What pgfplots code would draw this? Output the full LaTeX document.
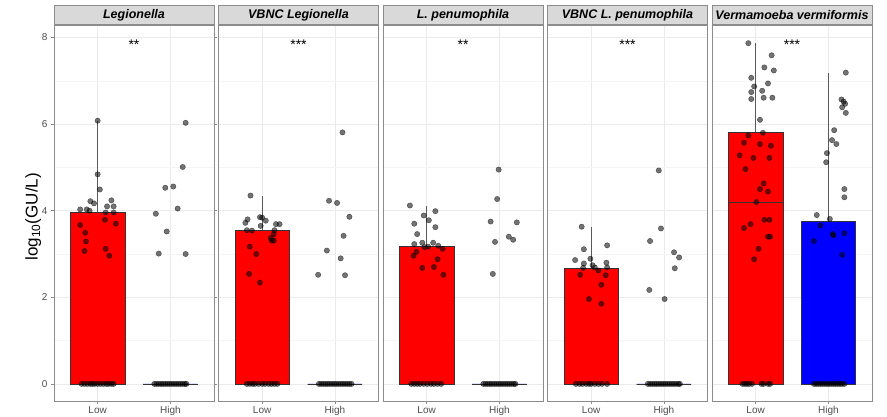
\documentclass[border=0pt]{standalone}
\usepackage{fontspec}
\setmainfont{Liberation Sans}
\usepackage{pgfplots}
\pgfplotsset{compat=1.18}
\usepgfplotslibrary{statistics}
\definecolor{gridc}{HTML}{EBEBEB}
\definecolor{gridm}{HTML}{F5F5F5}
\definecolor{bordc}{HTML}{8C8C8C}
\definecolor{stripc}{HTML}{D9D9D9}
\definecolor{tickc}{HTML}{4D4D4D}
\definecolor{boxc}{HTML}{333333}
\definecolor{whc}{HTML}{5A5A5A}
\tikzset{star/.style={font=\fontsize{14}{14}\selectfont, yshift=-3.5pt}}
\pgfplotsset{
  facet/.style={
    scale only axis, width=160pt, height=376pt,
    anchor=south west,
    xmin=0.4, xmax=2.6, ymin=-0.395, ymax=8.29,
    xtick={1,2}, xticklabels={Low,High},
    ytick={0,2,4,6,8}, minor ytick={1,3,5,7},
    /pgf/number format/assume math mode=true,
    grid=both,
    major grid style={gridc, line width=0.6pt},
    minor grid style={gridm, line width=0.4pt},
    axis line style={bordc, line width=0.6pt},
    tick align=outside, major tick length=3pt, minor tick length=0pt,
    tick style={bordc, line width=0.5pt},
    tick label style={font=\fontsize{10}{10}\selectfont, text=tickc},
    xticklabel style={yshift=1pt},
    clip=false,
    boxplot/draw direction=y,
    title style={at={(0.5,1)}, anchor=south, yshift=-6pt, fill=stripc, draw=bordc, line width=0.6pt,
      minimum width=160pt, minimum height=19pt, inner sep=0pt,
      font=\fontsize{12.5}{12.5}\selectfont\bfseries\itshape},
  },
  noy/.style={yticklabels={}, ytick style={draw=none}},
  bx/.style={fill=#1, draw=boxc, line width=0.6pt,
    boxplot/draw direction=y,
    boxplot/every whisker/.style={draw=whc},
    boxplot/whisker extend=0, boxplot/box extend=0.75},
  pts/.style={only marks, mark=*, mark size=2.7pt, mark options={fill=black, draw=none, opacity=0.55}},
}
\begin{document}
\begin{tikzpicture}
\useasboundingbox (0,0) rectangle (887pt,416pt);
% ---------------- Panel 1
\begin{axis}[facet, at={(54pt,15pt)}, title={Legionella},
  ylabel={log\textsubscript{10}(GU/L)},
  ylabel style={at={(axis description cs:-0.13,0.49)}, anchor=center, font=\fontsize{17}{17}\selectfont, text=black}]
\addplot[bx=red, boxplot prepared={lower whisker=0, lower quartile=0, median=0, upper quartile=3.97, upper whisker=6.08, draw position=1}] coordinates {};
\addplot[bx=blue, boxplot prepared={lower whisker=0, lower quartile=0, median=0, upper quartile=0, upper whisker=0, draw position=2}] coordinates {};
\addplot[pts] coordinates {
(1.00,6.08)(1.00,4.84)(1.03,4.49)(0.90,4.22)(0.95,4.17)(1.19,4.24)(1.13,4.10)(1.22,4.10)
(0.76,4.03)(0.85,4.03)(0.89,4.00)(1.11,3.96)(1.22,3.96)(0.76,3.67)(0.83,3.49)(0.84,3.29)
(1.10,3.79)(1.25,3.70)(0.82,3.07)(1.11,3.12)(1.16,2.96)
(0.78,0)(0.82,0)(0.86,0)(0.90,0)(0.93,0)(0.96,0)(1.00,0)(1.04,0)(1.08,0)(1.12,0)(1.15,0)(1.19,0)(1.22,0)
(2.21,6.03)(2.17,5.01)(1.93,4.53)(2.04,4.56)(2.10,4.05)(1.80,3.93)(1.95,3.52)(1.84,3.01)(2.21,3.00)
(1.78,0)(1.81,0)(1.84,0)(1.87,0)(1.90,0)(1.93,0)(1.96,0)(1.99,0)(2.02,0)(2.05,0)(2.08,0)(2.11,0)(2.14,0)(2.17,0)(2.20,0)(2.22,0)
};
\node[star] at (axis cs:1.5,7.92) {**};
\end{axis}
% ---------------- Panel 2
\begin{axis}[facet, noy, at={(218.5pt,15pt)}, title={VBNC Legionella}]
\addplot[bx=red, boxplot prepared={lower whisker=0, lower quartile=0, median=0, upper quartile=3.54, upper whisker=4.34, draw position=1}] coordinates {};
\addplot[bx=blue, boxplot prepared={lower whisker=0, lower quartile=0, median=0, upper quartile=0, upper whisker=0, draw position=2}] coordinates {};
\addplot[pts] coordinates {
(0.84,4.35)(0.80,3.80)(0.77,3.72)(0.97,3.85)(1.00,3.84)(1.05,3.77)(0.98,3.65)(1.19,3.69)(1.24,3.69)
(0.79,3.55)(0.86,3.54)(1.17,3.55)(1.16,3.46)(1.12,3.37)(1.13,3.31)(1.16,3.31)(0.83,3.17)(0.92,3.00)(0.82,2.54)(0.97,2.34)
(0.79,0)(0.83,0)(0.87,0)(0.90,0)(0.95,0)(1.00,0)(1.04,0)(1.09,0)(1.13,0)(1.17,0)(1.21,0)
(2.105,5.81)(1.92,4.23)(2.03,4.18)(2.20,3.86)(2.12,3.42)(1.89,3.08)(2.08,2.90)(1.77,2.52)(2.14,2.51)
(1.78,0)(1.81,0)(1.84,0)(1.87,0)(1.90,0)(1.93,0)(1.96,0)(1.99,0)(2.02,0)(2.05,0)(2.08,0)(2.11,0)(2.14,0)(2.17,0)(2.20,0)(2.23,0)
};
\node[star] at (axis cs:1.5,7.92) {***};
\end{axis}
% ---------------- Panel 3
\begin{axis}[facet, noy, at={(383pt,15pt)}, title={L. penumophila}]
\addplot[bx=red, boxplot prepared={lower whisker=0, lower quartile=0, median=0, upper quartile=3.17, upper whisker=4.12, draw position=1}] coordinates {};
\addplot[bx=blue, boxplot prepared={lower whisker=0, lower quartile=0, median=0, upper quartile=0, upper whisker=0, draw position=2}] coordinates {};
\addplot[pts] coordinates {
(0.77,4.12)(1.12,3.99)(0.96,3.89)(1.03,3.78)(0.83,3.70)(1.12,3.62)(0.87,3.46)(0.83,3.23)(0.94,3.26)(1.09,3.26)
(1.16,3.19)(0.86,3.05)(0.97,3.16)(1.02,3.17)(1.22,3.12)(0.82,2.96)(1.15,2.88)(0.94,2.68)(1.10,2.70)(1.23,2.52)
(0.79,0)(0.83,0)(0.87,0)(0.91,0)(0.96,0)(1.01,0)(1.06,0)(1.10,0)(1.15,0)(1.20,0)
(1.99,4.95)(1.97,4.27)(1.88,3.75)(2.24,3.73)(2.13,3.40)(2.19,3.33)(1.94,3.28)(1.91,2.54)
(1.78,0)(1.81,0)(1.84,0)(1.87,0)(1.90,0)(1.93,0)(1.96,0)(1.99,0)(2.02,0)(2.05,0)(2.08,0)(2.11,0)(2.14,0)(2.17,0)(2.20,0)(2.22,0)
};
\node[star] at (axis cs:1.5,7.92) {**};
\end{axis}
% ---------------- Panel 4
\begin{axis}[facet, noy, at={(547.5pt,15pt)}, title={VBNC L. penumophila}]
\addplot[bx=red, boxplot prepared={lower whisker=0, lower quartile=0, median=0, upper quartile=2.68, upper whisker=3.63, draw position=1}] coordinates {};
\addplot[bx=blue, boxplot prepared={lower whisker=0, lower quartile=0, median=0, upper quartile=0, upper whisker=0, draw position=2}] coordinates {};
\addplot[pts] coordinates {
(0.87,3.63)(0.90,3.11)(1.22,3.20)(0.78,2.86)(0.99,2.89)(0.90,2.78)(1.21,2.80)(1.02,2.74)(0.89,2.68)(1.05,2.69)
(1.22,2.69)(0.85,2.52)(1.10,2.62)(1.20,2.51)(1.14,2.29)(0.97,1.96)(1.14,1.85)
(0.79,0)(0.84,0)(0.88,0)(0.93,0)(0.97,0)(1.00,0)(1.05,0)(1.10,0)(1.15,0)(1.22,0)
(1.93,4.93)(1.96,3.59)(1.81,3.30)(2.14,3.04)(2.21,2.92)(2.15,2.67)(1.80,2.17)(2.01,1.96)
(1.78,0)(1.81,0)(1.84,0)(1.87,0)(1.90,0)(1.93,0)(1.96,0)(1.99,0)(2.02,0)(2.05,0)(2.08,0)(2.11,0)(2.14,0)(2.17,0)(2.20,0)(2.22,0)
};
\node[star] at (axis cs:1.5,7.92) {***};
\end{axis}
% ---------------- Panel 5
\begin{axis}[facet, noy, at={(712pt,15pt)}, title={Vermamoeba vermiformis}]
\addplot[bx=red, boxplot prepared={lower whisker=0, lower quartile=0, median=4.20, upper quartile=5.80, upper whisker=7.87, draw position=1}] coordinates {};
\addplot[bx=blue, boxplot prepared={lower whisker=0, lower quartile=0, median=0, upper quartile=3.75, upper whisker=7.19, draw position=2}] coordinates {};
\addplot[pts] coordinates {
(0.90,7.87)(1.22,7.59)(1.12,7.31)(1.25,7.24)(0.94,7.07)(1.17,6.94)(0.98,6.87)(1.09,6.77)(0.94,6.74)(0.94,6.58)
(1.11,6.61)(1.23,6.61)(1.06,6.10)(1.10,5.80)(0.90,5.74)(0.84,5.57)(1.06,5.54)(1.21,5.50)(0.78,5.28)(0.97,5.22)
(1.19,5.22)(0.86,4.96)(1.11,4.63)(1.06,4.50)(1.17,4.44)(1.01,4.20)(0.93,3.69)(0.84,3.60)(1.12,3.79)(1.19,3.79)
(1.17,3.40)(1.20,3.40)(1.04,3.12)(0.98,2.88)
(0.82,0)(0.85,0)(0.88,0)(0.91,0)(0.95,0)(1.08,0)(1.11,0)(1.17,0)(1.20,0)
(2.24,7.19)(2.18,6.57)(2.21,6.52)(2.23,6.47)(2.19,6.39)(2.24,6.26)(2.08,5.86)(2.05,5.63)(2.11,5.54)(1.98,5.33)
(1.97,5.12)(2.22,4.50)(2.22,4.31)(1.84,3.90)(2.02,3.81)(1.89,3.66)(1.80,3.30)(2.06,3.46)(2.07,3.43)(2.22,3.48)(2.19,2.98)
(1.80,0)(1.83,0)(1.86,0)(1.89,0)(1.92,0)(1.95,0)(1.98,0)(2.01,0)(2.04,0)(2.07,0)(2.10,0)(2.13,0)(2.16,0)(2.19,0)(2.22,0)
};
\node[star] at (axis cs:1.5,7.92) {***};
\end{axis}
\end{tikzpicture}
\end{document}
